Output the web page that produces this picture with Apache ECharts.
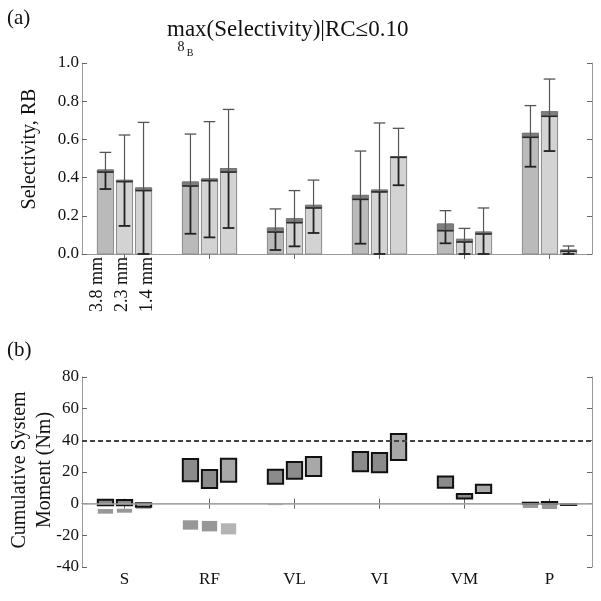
<!DOCTYPE html>
<html><head><meta charset="utf-8">
<script src="https://cdn.jsdelivr.net/npm/echarts@6/dist/echarts.min.js"></script>
<style>html,body{margin:0;padding:0;background:#fff}#c{width:601px;height:601px}</style>
</head><body><div id="c"></div>
<script>
// ---------- data ----------
const categories = ['S', 'RF', 'VL', 'VI', 'VM', 'P'];
const sizeLabels = ['3.8 mm', '2.3 mm', '1.4 mm'];
const selTicksA = { min: 0, max: 1, interval: 0.2 };
const momTicksB = { min: -40, max: 80, interval: 20 };

// Panel (a): bar top, inner (median) line, lower whisker, upper whisker
const sel38Top = [0.44, 0.377, 0.136, 0.307, 0.157, 0.632];
const sel38Mid = [0.429, 0.356, 0.115, 0.286, 0.122, 0.611];
const sel38Lo  = [0.34, 0.106, 0.021, 0.054, 0.056, 0.457];
const sel38Hi  = [0.532, 0.628, 0.236, 0.539, 0.227, 0.777];

const sel23Top = [0.386, 0.393, 0.185, 0.335, 0.077, 0.745];
const sel23Mid = [0.379, 0.384, 0.164, 0.325, 0.063, 0.721];
const sel23Lo  = [0.147, 0.087, 0.04, 0.0, 0.0, 0.539];
const sel23Hi  = [0.623, 0.693, 0.332, 0.686, 0.134, 0.916];

const sel14Top = [0.346, 0.447, 0.255, 0.51, 0.115, 0.021];
const sel14Mid = [0.332, 0.429, 0.241, 0.506, 0.105, 0.014];
const sel14Lo  = [0.0, 0.136, 0.11, 0.36, 0.0, 0.0];
const sel14Hi  = [0.689, 0.757, 0.387, 0.658, 0.241, 0.042];

// Panel (b): positive (upper) moment range [lo, hi] and negative (lower) range [lo, hi]
const mom38Up   = [[-1.0, 2.5], [14.1, 28.2], [12.6, 21.5], [20.4, 32.6], [10.1, 17.1], [-0.2, 0.6]];
const mom38Down = [[-6.3, -3.4], [-16.4, -10.5], [-0.9, -0.3], null, null, [-2.7, -0.2]];
const mom23Up   = [[-1.0, 2.3], [9.9, 21.3], [15.8, 26.3], [19.8, 32.0], [3.2, 6.1], [-0.2, 1.05]];
const mom23Down = [[-5.7, -3.2], [-17.5, -10.9], null, null, null, [-3.4, -0.2]];
const mom14Up   = [[-1.9, 0.2], [13.9, 28.4], [17.5, 29.5], [27.6, 44.0], [6.7, 12.0], [-0.8, -0.4]];
const mom14Down = [[-3.4, -1.9], [-19.4, -12.4], null, null, null, null];
const thresholdLine = 40;

// ---------- chart ----------
const FONT = 'Liberation Serif';
const AXC = '#9a9a9a';
const barFill = ['#bababa', '#d3d3d3', '#d3d3d3'];
const upFill = ['#8b8b8b', '#8b8b8b', '#a8a8a8'];
const downFill = ['#979797', '#979797', '#b4b4b4'];

const selSets = [
  [sel38Top, sel38Mid, sel38Lo, sel38Hi],
  [sel23Top, sel23Mid, sel23Lo, sel23Hi],
  [sel14Top, sel14Mid, sel14Lo, sel14Hi]
];
const momSets = [[mom38Up, mom38Down], [mom23Up, mom23Down], [mom14Up, mom14Down]];

function barRender(k) {
  return function (params, api) {
    const cat = api.value(0);
    const band = api.size([1, 0])[0];
    const w = band * 0.19;
    const off = (k - 1) * band * 0.224;
    const base = api.coord([cat, 0]);
    const xc = base[0] + off;
    const y0 = base[1];
    const yTop = api.coord([cat, api.value(1)])[1];
    const yMid = api.coord([cat, api.value(2)])[1];
    const yLo = api.coord([cat, api.value(3)])[1];
    const yHi = api.coord([cat, api.value(4)])[1];
    const cw = w * 0.72;
    const ch = [
      { type: 'rect', shape: { x: xc - w / 2, y: yTop, width: w, height: y0 - yTop },
        style: { fill: barFill[k], stroke: '#8a8a8a', lineWidth: 1 } },
      { type: 'rect', shape: { x: xc - w / 2, y: yTop, width: w, height: Math.max(yMid - yTop, 0) },
        style: { fill: '#7e7e7e', stroke: '#777', lineWidth: 1 } },
      { type: 'line', shape: { x1: xc - w / 2, y1: yMid, x2: xc + w / 2, y2: yMid },
        style: { stroke: '#2a2a2a', lineWidth: 1.6 } },
      { type: 'line', shape: { x1: xc, y1: yMid, x2: xc, y2: yHi },
        style: { stroke: '#555', lineWidth: 1.2 } },
      { type: 'line', shape: { x1: xc - cw / 2, y1: yHi, x2: xc + cw / 2, y2: yHi },
        style: { stroke: '#555', lineWidth: 1.3 } },
      { type: 'line', shape: { x1: xc, y1: yLo, x2: xc, y2: yMid },
        style: { stroke: '#222', lineWidth: 1.8 } },
      { type: 'line', shape: { x1: xc - cw / 2, y1: yLo, x2: xc + cw / 2, y2: yLo },
        style: { stroke: '#222', lineWidth: 1.8 } }
    ];
    if (params.dataIndex === 0) {
      ch.push({ type: 'text', x: base[0] - 2 + (k - 1) * 25, y: y0 + 3, rotation: Math.PI / 2,
        style: { text: sizeLabels[k], font: '18px ' + FONT, fill: '#111', align: 'right', verticalAlign: 'middle' } });
    }
    return { type: 'group', children: ch };
  };
}

function boxRender(k) {
  return function (params, api) {
    const cat = api.value(0);
    const band = api.size([1, 0])[0];
    const w = band * 0.18;
    const off = (k - 1) * band * 0.224;
    const xc = api.coord([cat, 0])[0] + off;
    const ch = [];
    const dLo = api.value(3), dHi = api.value(4);
    if (!isNaN(dLo) && !isNaN(dHi)) {
      const a = api.coord([cat, dHi])[1], b = api.coord([cat, dLo])[1];
      ch.push({ type: 'rect', shape: { x: xc - w / 2, y: a, width: w, height: b - a },
        style: { fill: downFill[k] } });
    }
    const uLo = api.value(1), uHi = api.value(2);
    if (!isNaN(uLo) && !isNaN(uHi)) {
      const a = api.coord([cat, uHi])[1], b = api.coord([cat, uLo])[1];
      ch.push({ type: 'rect', shape: { x: xc - w / 2, y: a, width: w, height: b - a },
        style: { fill: upFill[k], stroke: '#111', lineWidth: 2 } });
    }
    return { type: 'group', children: ch };
  };
}

const series = [];
selSets.forEach((set, k) => {
  series.push({
    type: 'custom', xAxisIndex: 0, yAxisIndex: 0, z: 3, clip: false,
    renderItem: barRender(k),
    encode: { x: 0, y: 1 },
    data: categories.map((c, i) => [i, set[0][i], set[1][i], set[2][i], set[3][i]])
  });
});
series.push({
  type: 'line', xAxisIndex: 2, yAxisIndex: 2, data: [], z: 1, silent: true,
  markLine: {
    silent: true, symbol: ['none', 'none'], label: { show: false },
    data: [
      { yAxis: 0, lineStyle: { type: 'solid', color: '#a8a8a8', width: 1.5 } },
      { yAxis: thresholdLine, lineStyle: { type: [5, 3], color: '#444', width: 2 } }
    ]
  }
});
momSets.forEach((set, k) => {
  series.push({
    type: 'custom', xAxisIndex: 2, yAxisIndex: 2, z: 3,
    renderItem: boxRender(k),
    encode: { x: 0, y: 1 },
    data: categories.map((c, i) => {
      const u = set[0][i], d = set[1][i];
      return [i, u ? u[0] : null, u ? u[1] : null, d ? d[0] : null, d ? d[1] : null];
    })
  });
});

function xAx(grid, pos, labels) {
  return {
    type: 'category', gridIndex: grid, position: pos, data: categories,
    boundaryGap: true,
    axisLine: { show: true, lineStyle: { color: AXC, width: 1 } },
    axisTick: { show: true, inside: true, length: 5, alignWithLabel: true, lineStyle: { color: '#666' } },
    axisLabel: { show: labels, margin: 4, fontFamily: FONT, fontSize: 17, color: '#111' },
    splitLine: { show: false }
  };
}
function yAx(grid, pos, t, labels, fmt) {
  return {
    type: 'value', gridIndex: grid, position: pos, min: t.min, max: t.max, interval: t.interval,
    axisLine: { show: true, lineStyle: { color: AXC, width: 1 } },
    axisTick: { show: true, inside: true, length: 5, lineStyle: { color: '#666' } },
    axisLabel: { show: labels, margin: 3, fontFamily: FONT, fontSize: 17, color: '#111', formatter: fmt },
    splitLine: { show: false }
  };
}

const chart = echarts.init(document.getElementById('c'), null, { renderer: 'canvas' });
chart.setOption({
  backgroundColor: '#fff',
  animation: false,
  grid: [
    { left: 82, top: 63, width: 510, height: 191 },
    { left: 82, top: 377, width: 510, height: 190 }
  ],
  xAxis: [
    xAx(0, 'bottom', false), xAx(0, 'top', false),
    xAx(1, 'bottom', true), xAx(1, 'top', false)
  ],
  yAxis: [
    yAx(0, 'left', selTicksA, true, v => v.toFixed(1)), yAx(0, 'right', selTicksA, false),
    yAx(1, 'left', momTicksB, true, v => String(v)), yAx(1, 'right', momTicksB, false)
  ],
  graphic: [
    { type: 'text', left: 7, top: 8, style: { text: '(a)', font: '21px ' + FONT, fill: '#111' } },
    { type: 'text', left: 7, top: 340, style: { text: '(b)', font: '21px ' + FONT, fill: '#111' } },
    { type: 'text', x: 167, y: 30, style: { text: 'max(Selectivity)|RC≤0.10', font: '23px ' + FONT, fill: '#111', align: 'left', verticalAlign: 'middle' } },
    { type: 'text', x: 181, y: 47, style: { text: '8', font: '14px ' + FONT, fill: '#111', align: 'center', verticalAlign: 'middle' } },
    { type: 'text', x: 190, y: 53, style: { text: 'B', font: '10px ' + FONT, fill: '#111', align: 'center', verticalAlign: 'middle' } },
    { type: 'text', x: 30, y: 149, rotation: Math.PI / 2, style: { text: 'Selectivity, RB', font: '20px ' + FONT, fill: '#111', align: 'center', verticalAlign: 'middle' } },
    { type: 'text', x: 20, y: 470, rotation: Math.PI / 2, style: { text: 'Cumulative System', font: '20px ' + FONT, fill: '#111', align: 'center', verticalAlign: 'middle' } },
    { type: 'text', x: 45, y: 470, rotation: Math.PI / 2, style: { text: 'Moment (Nm)', font: '20px ' + FONT, fill: '#111', align: 'center', verticalAlign: 'middle' } }
  ],
  series: series
});
</script>
</body></html>
